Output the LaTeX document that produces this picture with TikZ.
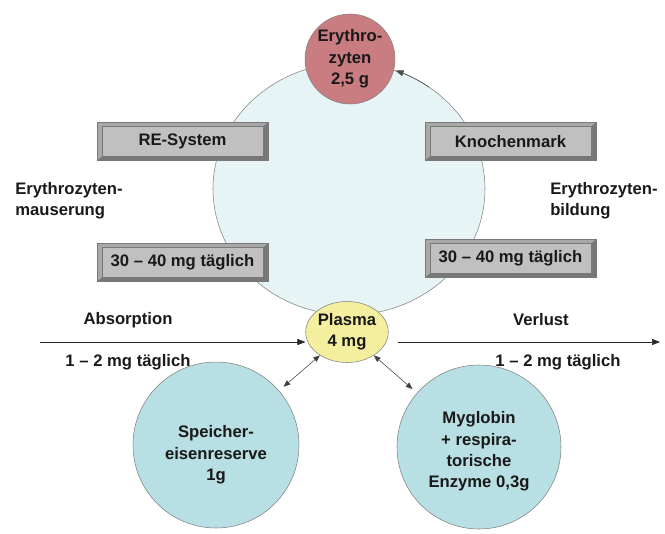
\documentclass[tikz,border=0pt]{standalone}
\usepackage{fontspec}
\setmainfont{Liberation Sans}
\usetikzlibrary{arrows.meta,shapes.geometric,calc}
\definecolor{cyclefill}{RGB}{231,244,246}
\definecolor{erythrofill}{RGB}{201,125,128}
\definecolor{plasmafill}{RGB}{243,239,158}
\definecolor{depotfill}{RGB}{184,223,227}
\definecolor{boxgray}{RGB}{192,192,192}
\definecolor{boxframe}{RGB}{168,168,168}
\definecolor{boxshade}{RGB}{120,120,120}
\definecolor{linegray}{RGB}{128,128,128}
\tikzset{
  txt/.style={font=\fontsize{12.5}{16}\selectfont\bfseries, align=center, inner sep=0pt, text=black!90},
  pool/.style={txt, draw=linegray, thin},
  bevelbox/.style={txt, draw=boxshade, fill=boxframe, minimum width=128pt, minimum height=28.5pt,
    path picture={
      % dunkle Kante unten und rechts
      \fill[boxshade] (path picture bounding box.south west) -- (path picture bounding box.south east)
        -- (path picture bounding box.north east) -- ([shift={(-3.5pt,-3pt)}]path picture bounding box.north east)
        -- ([shift={(-3.5pt,3pt)}]path picture bounding box.south east) -- ([shift={(3.5pt,3pt)}]path picture bounding box.south west) -- cycle;
      \draw[boxshade, fill=boxgray] ([shift={(3.5pt,3pt)}]path picture bounding box.south west) rectangle ([shift={(-3.5pt,-3pt)}]path picture bounding box.north east);
    }},
  flow/.style={-{Triangle[length=6pt,width=4.5pt]}, thin, black!85},
  swap/.style={{Triangle[length=5pt,width=4pt]}-{Triangle[length=5pt,width=4pt]}, thin, black!75},
}
\begin{document}
\begin{tikzpicture}[x=0.75pt, y=-0.75pt]
\useasboundingbox (0,0) rectangle (665,533);
% Kreislauf
\node[pool, ellipse, fill=cyclefill, minimum width=204pt, minimum height=189pt] (cycle) at (349,189) {};
\node[pool, circle, fill=erythrofill, minimum size=67.5pt] (erythro) at (350,59) {Erythro-\\zyten\\2,5 g};
\draw[flow, linegray!60!black] ($(cycle.center)+(-54:136 and 126)$) arc[start angle=-54, end angle=-70, x radius=136, y radius=126];
\node[bevelbox] (re) at (182.5,141.5) {RE-System};
\node[bevelbox] (knochen) at (510.5,141.5) {Knochenmark};
\node[bevelbox] (redaily) at (182.5,262.5) {30 -- 40 mg täglich};
\node[bevelbox] (kmdaily) at (510.5,258.5) {30 -- 40 mg täglich};
\node[txt, align=left, anchor=west] (mauser) at (15,201) {Erythrozyten-\\mauserung};
\node[txt, align=left, anchor=west] (bildung) at (550,201) {Erythrozyten-\\bildung};
% Plasma und Speicher
\node[pool, ellipse, fill=plasmafill, minimum width=57.75pt, minimum height=45.75pt] (plasma) at (347,332) {Plasma\\4 mg};
\node[pool, circle, fill=depotfill, minimum size=124.5pt] (depot) at (216,445) {};
\node[txt] (depotlabel) at ([yshift=-7.5pt]depot.center) {Speicher-\\eisenreserve\\1g};
\node[pool, circle, fill=depotfill, minimum size=123pt] (myo) at (479,447) {};
\node[txt] (myolabel) at ([yshift=-3.5pt]myo.center) {Myglobin\\+ respira-\\torische\\Enzyme 0,3g};
\draw[swap, shorten >=4.5pt] (plasma) -- (depot);
\draw[swap, shorten >=4.5pt] (plasma) -- (myo);
% Aufnahme und Verlust
\coordinate (absin) at (40,342);
\coordinate (lossout) at (660,342);
\draw[flow] (absin) -- (absin -| plasma.west);
\draw[flow, shorten <=6.75pt] (lossout -| plasma.east) -- (lossout);
\node[txt] (abs) at (128,320) {Absorption};
\node[txt] (absrate) at (128,362) {1 -- 2 mg täglich};
\node[txt] (loss) at (541,320) {Verlust};
\node[txt] (lossrate) at (558,362) {1 -- 2 mg täglich};
\end{tikzpicture}
\end{document}
